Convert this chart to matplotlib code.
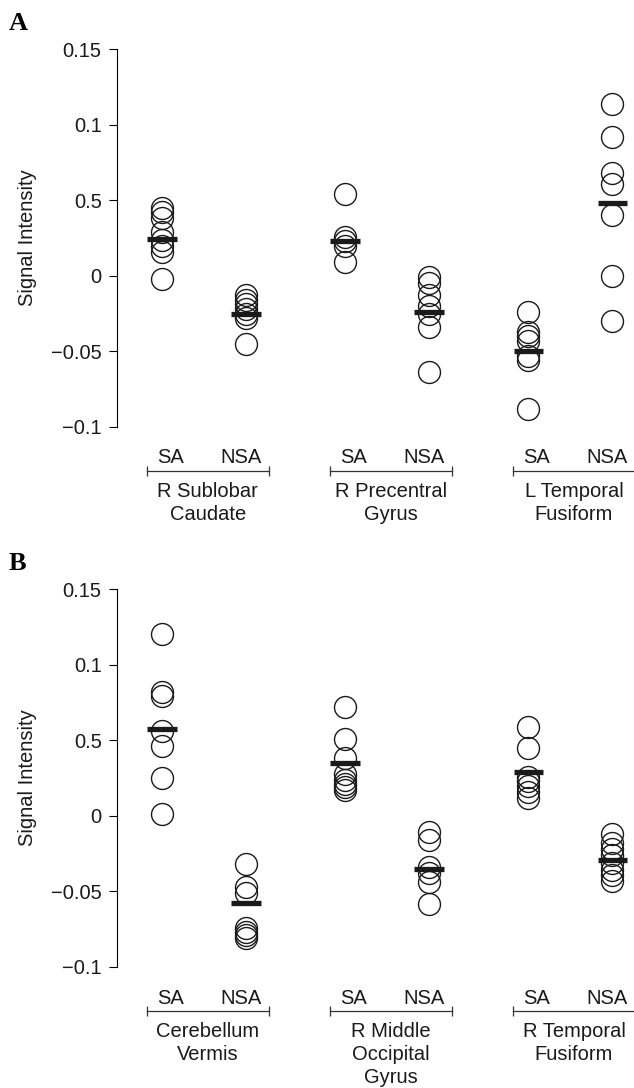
import matplotlib
matplotlib.use('Agg')
import matplotlib.pyplot as plt
from matplotlib import transforms

plt.rcParams['font.family'] = ['Liberation Sans', 'DejaVu Sans']

# panel A data
regions_a = ['R Sublobar\nCaudate', 'R Precentral\nGyrus', 'L Temporal\nFusiform']
a_sublobar_sa = [0.045, 0.042, 0.038, 0.029, 0.024, 0.020, 0.016, -0.002]
a_sublobar_nsa = [-0.013, -0.016, -0.019, -0.022, -0.025, -0.028, -0.045]
a_precentral_sa = [0.054, 0.026, 0.023, 0.020, 0.009]
a_precentral_nsa = [-0.001, -0.005, -0.013, -0.020, -0.025, -0.034, -0.064]
a_fusiform_sa = [-0.024, -0.037, -0.040, -0.043, -0.053, -0.056, -0.088]
a_fusiform_nsa = [0.114, 0.092, 0.068, 0.061, 0.040, 0.000, -0.030]
a_means = [0.0244, -0.0253, 0.023, -0.024, -0.050, 0.048]

# panel B data
regions_b = ['Cerebellum\nVermis', 'R Middle\nOccipital\nGyrus', 'R Temporal\nFusiform']
b_vermis_sa = [0.120, 0.082, 0.079, 0.056, 0.046, 0.025, 0.001]
b_vermis_nsa = [-0.032, -0.047, -0.051, -0.074, -0.077, -0.079, -0.081]
b_occipital_sa = [0.072, 0.051, 0.038, 0.028, 0.024, 0.021, 0.019, 0.017]
b_occipital_nsa = [-0.011, -0.016, -0.034, -0.038, -0.044, -0.058]
b_fusiform_sa = [0.059, 0.045, 0.026, 0.023, 0.020, 0.016, 0.012]
b_fusiform_nsa = [-0.012, -0.018, -0.022, -0.026, -0.031, -0.036, -0.039, -0.043]
b_means = [0.0575, -0.0575, 0.035, -0.035, 0.029, -0.029]

groups = ['SA', 'NSA']
yticks = [0.15, 0.1, 0.05, 0, -0.05, -0.1]
ytick_labels = ['0.15', '0.1', '0.5', '0', '\u22120.05', '\u22120.1']

W, H = 634, 1088
fig = plt.figure(figsize=(W / 100, H / 100), dpi=100)

def panel(ax, cols, means, regions, letter, letter_y):
    step = 2.18
    for i, vals in enumerate(cols):
        x = (i // 2) * step + (i % 2)
        ax.plot([x] * len(vals), vals, 'o', ms=15.8, mfc='none', mec='#1a1a1a',
                mew=1.0, clip_on=False, zorder=2)
        ax.hlines(means[i], x - 0.175, x + 0.175, color='#1a1a1a', lw=3.8,
                  zorder=3)
    ax.set_xlim(-0.536, -0.536 + 517 / 84)
    ax.set_ylim(-0.1, 0.15)
    ax.set_yticks(yticks)
    ax.set_yticklabels(ytick_labels)
    for s in ['top', 'right', 'bottom']:
        ax.spines[s].set_visible(False)
    ax.spines['left'].set_linewidth(0.8)
    ax.tick_params(axis='y', length=6, width=0.8, pad=5, labelsize=14.5,
                   labelcolor='#1a1a1a')
    ax.set_xticks([])
    ax.set_ylabel('Signal Intensity', fontsize=14.5, color='#1a1a1a')
    ax.yaxis.set_label_coords(-0.155, 0.5)

    base = transforms.blended_transform_factory(ax.transData, ax.transAxes)
    t_txt = transforms.offset_copy(base, fig=fig, y=-31, units='dots')
    t_br = transforms.offset_copy(base, fig=fig, y=-44, units='dots')
    t_lab = transforms.offset_copy(base, fig=fig, y=-55, units='dots')
    for g, name in enumerate(regions):
        x0 = g * step
        ax.text(x0 + 0.1, 0, groups[0], transform=t_txt, ha='center',
                va='center', fontsize=14.5, color='#1a1a1a')
        ax.text(x0 + 1 - 0.06, 0, groups[1], transform=t_txt, ha='center',
                va='center', fontsize=14.5, color='#1a1a1a')
        ax.plot([x0 - 0.18, x0 + 1.27], [0, 0], color='#333333', lw=0.9,
                marker='|', ms=7, mew=0.9, transform=t_br, clip_on=False)
        ax.text(x0 + 0.545, 0, name, transform=t_lab, ha='center', va='top',
                fontsize=14.5, color='#1a1a1a', linespacing=1.27)
    fig.text(9 / W, 1 - letter_y / H, letter, fontsize=19, fontweight='bold',
             family='Liberation Serif', ha='left', va='center')

ax_a = fig.add_axes([117 / W, 1 - 426.8 / H, 517 / W, 377.5 / H])
panel(ax_a, [a_sublobar_sa, a_sublobar_nsa, a_precentral_sa, a_precentral_nsa,
             a_fusiform_sa, a_fusiform_nsa], a_means, regions_a, 'A', 24)

ax_b = fig.add_axes([117 / W, 1 - 967 / H, 517 / W, 377.9 / H])
panel(ax_b, [b_vermis_sa, b_vermis_nsa, b_occipital_sa, b_occipital_nsa,
             b_fusiform_sa, b_fusiform_nsa], b_means, regions_b, 'B', 564)

fig.savefig('out.png', dpi=100)
